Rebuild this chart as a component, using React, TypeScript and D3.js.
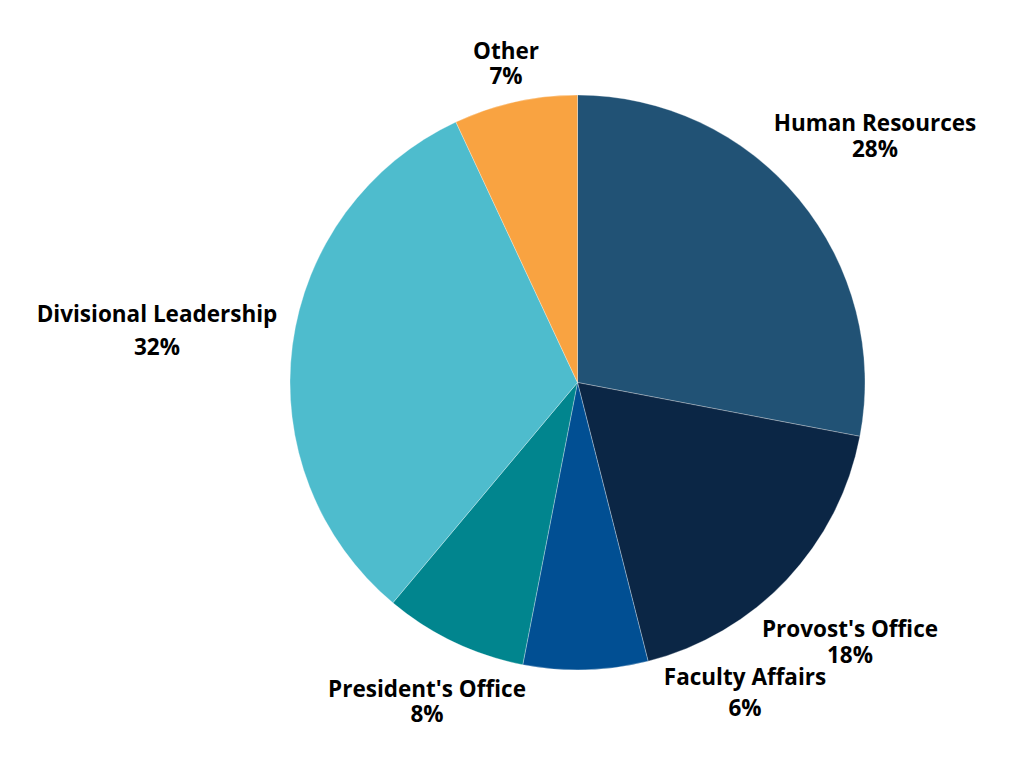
import React from 'react';
import * as d3 from 'd3';

// slice shares (clockwise from 12 o'clock)
const categories = [
  'Human Resources',
  "Provost's Office",
  'Faculty Affairs',
  "President's Office",
  'Divisional Leadership',
  'Other',
];
const values = [28.0, 18.05, 7.0, 8.05, 31.95, 6.95];
const pctLabels = ['28%', '18%', '6%', '8%', '32%', '7%'];
const colors = ['#215275', '#0b2645', '#014f93', '#01858e', '#4ebccd', '#f9a341'];

// label block layout: centre x, first baseline y, line gap (px)
const labelLayout: [number, number, number][] = [
  [875, 131, 26],
  [850, 637, 26],
  [745, 685, 31],
  [427, 697, 25],
  [157, 322, 33],
  [506, 59, 25],
];

const width = 1024;
const height = 768;
const cx = 577.5;
const cy = 382.5;
const radius = 287.5;

interface Slice {
  name: string;
  value: number;
}

export default function App() {
  const data: Slice[] = categories.map((name, i) => ({ name, value: values[i] }));

  const pie = d3
    .pie<Slice>()
    .sort(null)
    .value((d) => d.value)
    .startAngle(0)
    .endAngle(2 * Math.PI);

  const arc = d3.arc<d3.PieArcDatum<Slice>>().innerRadius(0).outerRadius(radius);

  const arcs = pie(data);

  return (
    <svg
      width={width}
      height={height}
      style={{ position: 'absolute', left: 0, top: 0, background: '#fff' }}
      fontFamily="'Open Sans', 'Noto Sans', sans-serif"
    >
      <g transform={`translate(${cx}, ${cy})`}>
        {arcs.map((a, i) => (
          <path key={a.data.name} d={arc(a) ?? ''} fill={colors[i]} stroke="#fff" strokeWidth={0.3} />
        ))}
      </g>
      {/* 데이터 레이블 */}
      {arcs.map((a, i) => {
        const [lx, ly, gap] = labelLayout[i];
        return (
          <text key={`lbl-${i}`} textAnchor="middle" fontSize={22.5} fontWeight={700} fill="#000">
            <tspan x={lx} y={ly}>
              {a.data.name}
            </tspan>
            <tspan x={lx} y={ly + gap}>
              {pctLabels[i]}
            </tspan>
          </text>
        );
      })}
    </svg>
  );
}
